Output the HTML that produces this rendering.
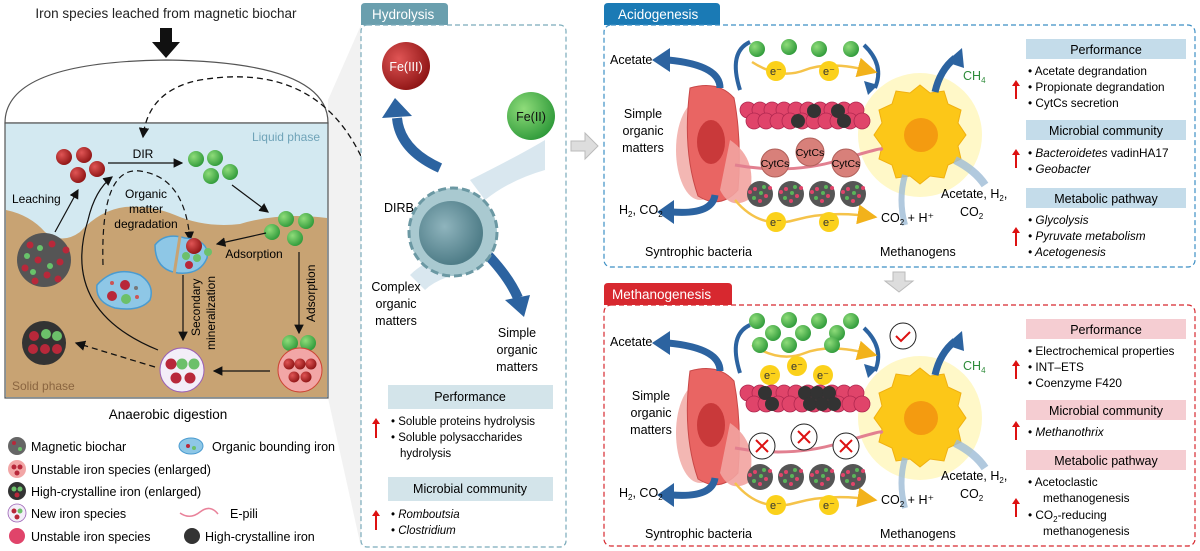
<!DOCTYPE html>
<html><head><meta charset="utf-8"><style>
html,body{margin:0;padding:0;background:#fff;}
svg{display:block;font-family:"Liberation Sans",Arial,sans-serif;}
</style></head><body>
<svg width="1200" height="551" viewBox="0 0 1200 551" xmlns="http://www.w3.org/2000/svg">
<defs>
<radialGradient id="gR" cx="0.35" cy="0.35" r="0.7"><stop offset="0" stop-color="#e05555"/><stop offset="1" stop-color="#8e1414"/></radialGradient>
<radialGradient id="gG" cx="0.35" cy="0.35" r="0.7"><stop offset="0" stop-color="#8fdc7a"/><stop offset="1" stop-color="#2f9a3a"/></radialGradient>
<radialGradient id="gC" cx="0.4" cy="0.4" r="0.6"><stop offset="0" stop-color="#8fb4bd"/><stop offset="1" stop-color="#4f7d88"/></radialGradient>
<marker id="ah" markerWidth="8" markerHeight="8" refX="7" refY="4" orient="auto"><path d="M0,0 L8,4 L0,8 z" fill="#111"/></marker>
<marker id="ay" markerWidth="8" markerHeight="8" refX="7" refY="4" orient="auto"><path d="M0,0 L8,4 L0,8 z" fill="#f2b21b"/></marker>
<g id="bc"><circle r="13" fill="#555"/><circle cx="-5" cy="-5" r="2" fill="#e0446a"/><circle cx="4" cy="-7" r="2" fill="#5ab55a"/><circle cx="6" cy="2" r="2" fill="#e0446a"/><circle cx="-6" cy="4" r="2" fill="#5ab55a"/><circle cx="0" cy="7" r="2" fill="#e0446a"/><circle cx="1" cy="-1" r="2" fill="#5ab55a"/><circle cx="-10" cy="-2" r="2" fill="#e0446a"/><circle cx="10" cy="-6" r="2" fill="#e0446a"/></g>
<g id="gb"><circle r="8" fill="url(#gG)"/></g>
<g id="rb"><circle r="8" fill="url(#gR)"/></g>
<g id="el"><circle r="10" fill="#fbd11b"/><text y="4" font-size="11" text-anchor="middle" fill="#333">e⁻</text></g>
<g id="pb"><circle r="8" fill="#e0446a" stroke="#b02850" stroke-width="0.8"/></g>
<g id="scene">
 <ellipse cx="700" cy="150" rx="24" ry="50" fill="#f0a5a0" opacity="0.8"/>
 <path d="M690,88 Q718,80 734,98 Q742,140 738,190 Q720,210 698,196 Q682,150 690,88z" fill="#e96563" stroke="#c94848"/>
 <path d="M730,140 Q760,160 748,200 Q730,210 720,190z" fill="#f2a3a0" opacity="0.9"/>
 <ellipse cx="711" cy="142" rx="14" ry="22" fill="#c9393a"/>
 <path d="M720,88 Q720,65 668,60" stroke="#2c63a0" stroke-width="7" fill="none"/><path d="M652,60 l18,-12 l0,24z" fill="#2c63a0"/>
 <path d="M715,195 Q712,215 672,212" stroke="#2c63a0" stroke-width="7" fill="none"/><path d="M657,212 l17,-12 l0,24z" fill="#2c63a0"/>
 <path d="M740,90 Q728,52 750,42" stroke="#2c63a0" stroke-width="4" fill="none"/>
 <path d="M864,45 Q885,65 875,88" stroke="#2c63a0" stroke-width="4" fill="none"/><path d="M868,95 l-4,-14 l14,4z" fill="#2c63a0"/>
 <circle cx="920" cy="135" r="62" fill="#fff5b0" opacity="0.7"/>
 <path d="M920,85 l10,8 14,-2 4,13 13,6 -3,13 8,12 -8,11 3,13 -13,6 -4,13 -14,-2 -10,8 -10,-8 -14,2 -4,-13 -13,-6 3,-13 -8,-11 8,-12 -3,-13 13,-6 4,-13 14,2z" fill="#fcc718" stroke="#f0b010"/>
 <circle cx="921" cy="135" r="17" fill="#f49b10"/>
 <path d="M935,92 Q940,70 955,58" stroke="#2c63a0" stroke-width="7" fill="none"/><path d="M962,48 l2,20 l-18,-6z" fill="#2c63a0"/>
 <path d="M905,175 Q898,200 905,225" stroke="#9dbbd6" stroke-width="6" fill="none" opacity="0.8"/>
 <path d="M955,160 Q975,170 985,185" stroke="#9dbbd6" stroke-width="8" fill="none" opacity="0.8"/>
 <path d="M752,62 Q780,80 805,70 T875,72" stroke="#f5c34a" stroke-width="2.5" fill="none" marker-end="url(#ay)"/>
 <path d="M735,200 Q760,230 795,220 T875,217" stroke="#f5c34a" stroke-width="2.5" fill="none" marker-end="url(#ay)"/>
 <path d="M735,165 Q790,175 840,160 T880,150" stroke="#e28090" stroke-width="3" fill="none"/>
</g>
</defs>

<!-- zoom shading -->
<path d="M328,100 L361,25 L361,547 L328,398z" fill="#ececec" opacity="0.7"/>

<!-- ================= LEFT PANEL ================= -->
<text x="166" y="18" font-size="13.5" text-anchor="middle" fill="#222">Iron species leached from magnetic biochar</text>
<path d="M160,28 h12 v14 h8 l-14,16 l-14,-16 h8z" fill="#111"/>
<path d="M5,123 Q5,62 166,60 Q328,62 328,123z" fill="#fff" stroke="#555" stroke-width="1.2"/>
<rect x="5" y="123" width="323" height="275" fill="#d3e9f1" stroke="#555" stroke-width="1.2"/>
<path d="M6,210 Q30,215 45,232 Q62,245 80,232 Q100,210 125,207 Q150,205 175,215 Q205,228 240,224 Q280,212 327,218 L327,397 L6,397z" fill="#c8a373"/>
<text x="320" y="141" font-size="12" text-anchor="end" fill="#6fa3b8">Liquid phase</text>
<text x="12" y="390" font-size="12" fill="#8a6540">Solid phase</text>
<path d="M365,165 Q320,60 200,80 Q148,90 143,137" stroke="#111" stroke-width="1.3" stroke-dasharray="6,4" fill="none" marker-end="url(#ah)"/>
<use href="#rb" x="64" y="157"/><use href="#rb" x="84" y="155"/><use href="#rb" x="78" y="175"/><use href="#rb" x="97" y="169"/>
<text x="143" y="158" font-size="12" text-anchor="middle">DIR</text>
<line x1="108" y1="163" x2="182" y2="163" stroke="#111" stroke-width="1.2" marker-end="url(#ah)"/>
<use href="#gb" x="196" y="159"/><use href="#gb" x="215" y="158"/><use href="#gb" x="211" y="176"/><use href="#gb" x="230" y="172"/>
<text x="12" y="203" font-size="12">Leaching</text>
<line x1="55" y1="232" x2="78" y2="190" stroke="#111" stroke-width="1.2" marker-end="url(#ah)"/>
<circle cx="44" cy="260" r="27" fill="#555"/>
<g fill="#b8283a"><circle cx="30" cy="245" r="3.5"/><circle cx="52" cy="244" r="3.5"/><circle cx="38" cy="260" r="3.5"/><circle cx="60" cy="262" r="3.5"/><circle cx="25" cy="268" r="3.5"/><circle cx="47" cy="275" r="3.5"/><circle cx="66" cy="250" r="3.5"/><circle cx="35" cy="281" r="3.5"/><circle cx="58" cy="279" r="3.5"/></g>
<g fill="#68c26a"><circle cx="40" cy="248" r="3"/><circle cx="27" cy="256" r="3"/><circle cx="50" cy="266" r="3"/><circle cx="33" cy="272" r="3"/></g>
<text x="146" y="198" font-size="12" text-anchor="middle">Organic</text>
<text x="146" y="213" font-size="12" text-anchor="middle">matter</text>
<text x="146" y="228" font-size="12" text-anchor="middle">degradation</text>
<path d="M103,265 Q100,160 145,172 Q185,180 190,240" stroke="#111" stroke-width="1.2" stroke-dasharray="6,4" fill="none" marker-end="url(#ah)"/>
<path d="M158,350 Q60,310 88,220 Q95,190 112,177" stroke="#111" stroke-width="1.2" fill="none" marker-end="url(#ah)"/>
<line x1="232" y1="185" x2="268" y2="212" stroke="#111" stroke-width="1.2" marker-end="url(#ah)"/>
<use href="#gb" x="286" y="219"/><use href="#gb" x="306" y="221"/><use href="#gb" x="272" y="232"/><use href="#gb" x="295" y="238"/>
<line x1="266" y1="233" x2="217" y2="244" stroke="#111" stroke-width="1.2" marker-end="url(#ah)"/>
<text x="254" y="258" font-size="12" text-anchor="middle">Adsorption</text>
<path d="M155,245 Q165,232 185,238 Q210,240 207,258 Q200,275 178,273 Q155,270 155,245z" fill="#8ec7e6" stroke="#4a9bd0" stroke-width="1.5"/>
<line x1="180" y1="236" x2="174" y2="275" stroke="#c8a373" stroke-width="3"/>
<use href="#rb" x="194" y="246"/><circle cx="186" cy="256" r="4" fill="#6cc06a"/><circle cx="197" cy="258" r="4" fill="#6cc06a"/><circle cx="189" cy="265" r="4" fill="#b8283a"/><circle cx="208" cy="252" r="4" fill="#6cc06a"/>
<path d="M97,285 Q115,265 140,275 Q155,285 150,300 Q140,312 115,308 Q95,302 97,285z" fill="#8ec7e6" stroke="#4a9bd0" stroke-width="1.5"/>
<circle cx="125" cy="285" r="5" fill="#b8283a"/><circle cx="112" cy="296" r="5" fill="#b8283a"/><circle cx="126" cy="299" r="5" fill="#6cc06a"/><circle cx="112" cy="283" r="2" fill="#c55"/><circle cx="136" cy="288" r="2" fill="#777"/><circle cx="137" cy="297" r="2" fill="#c55"/>
<line x1="183" y1="275" x2="183" y2="340" stroke="#111" stroke-width="1.2" marker-end="url(#ah)"/>
<text transform="translate(200,336) rotate(-90)" font-size="12">Secondary</text>
<text transform="translate(215,350) rotate(-90)" font-size="12">mineralization</text>
<line x1="299" y1="252" x2="299" y2="333" stroke="#111" stroke-width="1.2" marker-end="url(#ah)"/>
<text transform="translate(315,322) rotate(-90)" font-size="12">Adsorption</text>
<use href="#gb" x="290" y="343"/><use href="#gb" x="308" y="343"/>
<circle cx="300" cy="370" r="22" fill="#f2a6a6" stroke="#c43" stroke-width="1"/>
<g fill="url(#gR)"><circle cx="289" cy="364" r="5.5"/><circle cx="300" cy="364" r="5.5"/><circle cx="311" cy="364" r="5.5"/><circle cx="294" cy="377" r="5.5"/><circle cx="306" cy="377" r="5.5"/></g>
<line x1="270" y1="371" x2="214" y2="371" stroke="#111" stroke-width="1.2" marker-end="url(#ah)"/>
<circle cx="182" cy="370" r="22" fill="#f3eef8" stroke="#9a5fb5" stroke-width="1"/>
<g><circle cx="171" cy="364" r="5.5" fill="#b8283a"/><circle cx="182" cy="364" r="5.5" fill="#6cc06a"/><circle cx="194" cy="364" r="5.5" fill="#6cc06a"/><circle cx="176" cy="378" r="5.5" fill="#b8283a"/><circle cx="190" cy="378" r="5.5" fill="#b8283a"/></g>
<line x1="155" y1="367" x2="76" y2="343" stroke="#111" stroke-width="1.3" stroke-dasharray="6,4" marker-end="url(#ah)"/>
<circle cx="44" cy="343" r="22" fill="#333"/>
<g><circle cx="34" cy="336" r="5" fill="#b8283a"/><circle cx="46" cy="334" r="5" fill="#6cc06a"/><circle cx="57" cy="336" r="5" fill="#6cc06a"/><circle cx="33" cy="349" r="5" fill="#b8283a"/><circle cx="45" cy="349" r="5" fill="#b8283a"/><circle cx="57" cy="349" r="5" fill="#b8283a"/></g>
<text x="168" y="419" font-size="13.5" text-anchor="middle">Anaerobic digestion</text>
<g font-size="12.5">
<circle cx="17" cy="446" r="9" fill="#666"/><circle cx="14" cy="443" r="2" fill="#b8283a"/><circle cx="20" cy="449" r="2" fill="#6cc06a"/>
<text x="31" y="451">Magnetic biochar</text>
<ellipse cx="191" cy="446" rx="12" ry="8" fill="#8ec7e6" stroke="#4a9bd0"/><circle cx="188" cy="446" r="2" fill="#b8283a"/><circle cx="194" cy="448" r="2" fill="#6cc06a"/>
<text x="212" y="451">Organic bounding iron</text>
<circle cx="17" cy="469" r="9" fill="#f2a6a6"/><circle cx="14" cy="467" r="2.5" fill="#b8283a"/><circle cx="20" cy="467" r="2.5" fill="#b8283a"/><circle cx="17" cy="473" r="2.5" fill="#b8283a"/>
<text x="31" y="474">Unstable iron species (enlarged)</text>
<circle cx="17" cy="491" r="9" fill="#333"/><circle cx="14" cy="489" r="2.5" fill="#6cc06a"/><circle cx="20" cy="489" r="2.5" fill="#6cc06a"/><circle cx="17" cy="495" r="2.5" fill="#b8283a"/>
<text x="31" y="496">High-crystalline iron (enlarged)</text>
<circle cx="17" cy="513" r="9" fill="#f3eef8" stroke="#9a5fb5" stroke-width="0.8"/><circle cx="14" cy="511" r="2.5" fill="#b8283a"/><circle cx="20" cy="511" r="2.5" fill="#6cc06a"/><circle cx="17" cy="517" r="2.5" fill="#b8283a"/>
<text x="31" y="518">New iron species</text>
<path d="M180,513 Q190,520 200,512 T218,514" stroke="#e9829a" stroke-width="1.5" fill="none"/>
<text x="230" y="518">E-pili</text>
<circle cx="17" cy="536" r="8" fill="#e0446a"/>
<text x="31" y="541">Unstable iron species</text>
<circle cx="192" cy="536" r="8" fill="#333"/>
<text x="205" y="541">High-crystalline iron</text>
</g>

<!-- ================= HYDROLYSIS ================= -->
<path d="M361,25 v-18 q0,-4 4,-4 h79 q4,0 4,4 v18z" fill="#6a9fae"/>
<text x="372" y="19" font-size="13.5" fill="#fff">Hydrolysis</text>
<rect x="361" y="25" width="205" height="522" rx="6" fill="#fff" stroke="#7aabba" stroke-width="1.2" stroke-dasharray="5,3"/>
<path d="M470,180 Q520,155 545,140 L545,170 Q510,180 485,200z" fill="#c9dde8" opacity="0.7"/>
<path d="M410,275 Q430,255 470,250 L480,270 Q440,275 425,290z" fill="#c9dde8" opacity="0.7"/>
<circle cx="406" cy="66" r="24" fill="url(#gR)"/><text x="406" y="71" font-size="12.5" text-anchor="middle" fill="#fff">Fe(III)</text>
<circle cx="531" cy="116" r="24" fill="url(#gG)"/><text x="531" y="121" font-size="12.5" text-anchor="middle" fill="#111">Fe(II)</text>
<path d="M440,168 Q400,150 397,118" stroke="#2c63a0" stroke-width="10" fill="none"/><path d="M382,118 l13,-20 l17,18z" fill="#2c63a0"/>
<path d="M483,250 Q508,275 518,298" stroke="#2c63a0" stroke-width="10" fill="none"/><path d="M505,300 l25,-5 l-6,22z" fill="#2c63a0"/>
<circle cx="453" cy="232" r="44" fill="#a9c9d0" stroke="#6b98a3" stroke-width="3" stroke-dasharray="8,4"/>
<circle cx="451" cy="233" r="32" fill="url(#gC)"/>
<text x="384" y="212" font-size="12.5">DIRB</text>
<g font-size="12.5" text-anchor="middle"><text x="396" y="291">Complex</text><text x="396" y="308">organic</text><text x="396" y="325">matters</text>
<text x="517" y="337">Simple</text><text x="517" y="354">organic</text><text x="517" y="371">matters</text></g>
<rect x="388" y="385" width="165" height="24" fill="#d3e4ea"/><text x="470" y="401" font-size="12.5" text-anchor="middle">Performance</text>
<g font-size="11.5"><text x="391" y="425">•  Soluble proteins hydrolysis</text><text x="391" y="441">•  Soluble polysaccharides</text><text x="400" y="457">hydrolysis</text>
<text x="391" y="518">•  <tspan font-style="italic">Romboutsia</tspan></text><text x="391" y="534">•  <tspan font-style="italic">Clostridium</tspan></text></g>
<rect x="388" y="477" width="165" height="24" fill="#d3e4ea"/><text x="470" y="493" font-size="12.5" text-anchor="middle">Microbial community</text>
<g fill="#d11"><path d="M375,438 v-14 h-3 l4,-6 l4,6 h-3 v14z"/><path d="M375,530 v-14 h-3 l4,-6 l4,6 h-3 v14z"/></g>
<path d="M571,141 h14 v-8 l13,13 l-13,13 v-8 h-14z" fill="#ddd" stroke="#bbb"/>

<!-- ================= ACIDOGENESIS ================= -->
<path d="M604,25 v-18 q0,-4 4,-4 h108 q4,0 4,4 v18z" fill="#1a7ab5"/>
<text x="618" y="19" font-size="13.5" fill="#fff">Acidogenesis</text>
<rect x="604" y="25" width="591" height="242" rx="7" fill="#fff" stroke="#3c8fc4" stroke-width="1.2" stroke-dasharray="5,3"/>
<use href="#scene"/>
<g><use href="#gb" x="757" y="49"/><use href="#gb" x="789" y="47"/><use href="#gb" x="819" y="49"/><use href="#gb" x="851" y="49"/>
<use href="#el" x="776" y="71"/><use href="#el" x="829" y="71"/><use href="#el" x="776" y="222"/><use href="#el" x="829" y="222"/></g>
<g><use href="#pb" x="748" y="110"/><use href="#pb" x="760" y="110"/><use href="#pb" x="772" y="110"/><use href="#pb" x="784" y="110"/><use href="#pb" x="796" y="110"/><use href="#pb" x="808" y="110"/><use href="#pb" x="820" y="110"/><use href="#pb" x="832" y="110"/><use href="#pb" x="844" y="110"/><use href="#pb" x="856" y="110"/>
<use href="#pb" x="754" y="121"/><use href="#pb" x="766" y="121"/><use href="#pb" x="778" y="121"/><use href="#pb" x="790" y="121"/><use href="#pb" x="802" y="121"/><use href="#pb" x="814" y="121"/><use href="#pb" x="826" y="121"/><use href="#pb" x="838" y="121"/><use href="#pb" x="850" y="121"/><use href="#pb" x="862" y="121"/>
<circle cx="814" cy="111" r="7" fill="#333"/><circle cx="798" cy="121" r="7" fill="#333"/><circle cx="838" cy="111" r="7" fill="#333"/><circle cx="844" cy="121" r="7" fill="#333"/></g>
<g fill="#d8807a" stroke="#b0605a"><circle cx="775" cy="163" r="14"/><circle cx="810" cy="152" r="14"/><circle cx="846" cy="163" r="14"/></g>
<g font-size="10.5" text-anchor="middle"><text x="775" y="167">CytCs</text><text x="810" y="156">CytCs</text><text x="846" y="167">CytCs</text></g>
<use href="#bc" x="760" y="194"/><use href="#bc" x="791" y="194"/><use href="#bc" x="822" y="194"/><use href="#bc" x="853" y="194"/>
<g font-size="12.5"><text x="610" y="64">Acetate</text>
<text x="643" y="118" text-anchor="middle">Simple</text><text x="643" y="135" text-anchor="middle">organic</text><text x="643" y="152" text-anchor="middle">matters</text>
<text x="619" y="214">H<tspan font-size="8" dy="3">2</tspan><tspan dy="-3">, CO</tspan><tspan font-size="8" dy="3">2</tspan></text>
<text x="645" y="256">Syntrophic bacteria</text><text x="880" y="256">Methanogens</text>
<text x="963" y="80" fill="#2e8b3a">CH<tspan font-size="8" dy="3">4</tspan></text>
<text x="941" y="198">Acetate, H<tspan font-size="8" dy="3">2</tspan><tspan dy="-3">,</tspan></text><text x="960" y="216">CO<tspan font-size="8" dy="3">2</tspan></text>
<text x="881" y="222">CO<tspan font-size="8" dy="3">2</tspan><tspan dy="-3"> + H⁺</tspan></text></g>
<g font-size="12.5" text-anchor="middle">
<rect x="1026" y="39" width="160" height="20" fill="#c4dcea"/><text x="1106" y="54">Performance</text>
<rect x="1026" y="120" width="160" height="20" fill="#c4dcea"/><text x="1106" y="135">Microbial community</text>
<rect x="1026" y="188" width="160" height="20" fill="#c4dcea"/><text x="1106" y="203">Metabolic pathway</text></g>
<g font-size="11.8"><text x="1028" y="75">•  Acetate degrandation</text><text x="1028" y="91">•  Propionate degrandation</text><text x="1028" y="107">•  CytCs secretion</text>
<text x="1028" y="157">•  <tspan font-style="italic">Bacteroidetes</tspan> vadinHA17</text><text x="1028" y="173">•  <tspan font-style="italic">Geobacter</tspan></text>
<text x="1028" y="224" font-style="italic">•  Glycolysis</text><text x="1028" y="240" font-style="italic">•  Pyruvate metabolism</text><text x="1028" y="256" font-style="italic">•  Acetogenesis</text></g>
<g fill="#d11"><path d="M1015,99 v-13 h-3 l4,-6 l4,6 h-3 v13z"/><path d="M1015,168 v-13 h-3 l4,-6 l4,6 h-3 v13z"/><path d="M1015,246 v-13 h-3 l4,-6 l4,6 h-3 v13z"/></g>
<path d="M893,272 h12 v9 h8 l-14,11 l-14,-11 h8z" fill="#ddd" stroke="#bbb"/>

<!-- ================= METHANOGENESIS ================= -->
<path d="M604,305 v-18 q0,-4 4,-4 h120 q4,0 4,4 v18z" fill="#d7282f"/>
<text x="612" y="299" font-size="13.5" fill="#fff">Methanogenesis</text>
<rect x="604" y="305" width="591" height="241" rx="7" fill="#fff" stroke="#d7282f" stroke-width="1.2" stroke-dasharray="5,3"/>
<use href="#scene" y="283"/>
<g><use href="#gb" x="757" y="321"/><use href="#gb" x="789" y="320"/><use href="#gb" x="819" y="321"/><use href="#gb" x="851" y="321"/>
<use href="#gb" x="760" y="345"/><use href="#gb" x="789" y="345"/><use href="#gb" x="803" y="333"/><use href="#gb" x="837" y="333"/><use href="#gb" x="832" y="345"/><use href="#gb" x="773" y="333"/>
<use href="#el" x="770" y="375"/><use href="#el" x="797" y="366"/><use href="#el" x="823" y="375"/><use href="#el" x="776" y="505"/><use href="#el" x="829" y="505"/></g>
<circle cx="903" cy="336" r="13" fill="#fff" stroke="#222"/><path d="M896,336 l5,5 l9,-9" stroke="#d11" stroke-width="2" fill="none"/>
<g><use href="#pb" x="748" y="393"/><use href="#pb" x="760" y="393"/><use href="#pb" x="772" y="393"/><use href="#pb" x="784" y="393"/><use href="#pb" x="796" y="393"/><use href="#pb" x="808" y="393"/><use href="#pb" x="820" y="393"/><use href="#pb" x="832" y="393"/><use href="#pb" x="844" y="393"/><use href="#pb" x="856" y="393"/>
<use href="#pb" x="754" y="404"/><use href="#pb" x="766" y="404"/><use href="#pb" x="778" y="404"/><use href="#pb" x="790" y="404"/><use href="#pb" x="802" y="404"/><use href="#pb" x="814" y="404"/><use href="#pb" x="826" y="404"/><use href="#pb" x="838" y="404"/><use href="#pb" x="850" y="404"/><use href="#pb" x="862" y="404"/>
<g fill="#333"><circle cx="765" cy="393" r="7"/><circle cx="772" cy="404" r="7"/><circle cx="805" cy="393" r="7"/><circle cx="817" cy="393" r="7"/><circle cx="829" cy="393" r="7"/><circle cx="810" cy="404" r="7"/><circle cx="822" cy="404" r="7"/><circle cx="834" cy="404" r="7"/></g></g>
<g fill="#fff" stroke="#222"><circle cx="762" cy="446" r="13"/><circle cx="804" cy="437" r="13"/><circle cx="846" cy="446" r="13"/></g>
<g stroke="#d11" stroke-width="2"><path d="M756,440 l12,12 M768,440 l-12,12"/><path d="M798,431 l12,12 M810,431 l-12,12"/><path d="M840,440 l12,12 M852,440 l-12,12"/></g>
<use href="#bc" x="760" y="477"/><use href="#bc" x="791" y="477"/><use href="#bc" x="822" y="477"/><use href="#bc" x="853" y="477"/>
<g font-size="12.5"><text x="610" y="346">Acetate</text>
<text x="651" y="400" text-anchor="middle">Simple</text><text x="651" y="417" text-anchor="middle">organic</text><text x="651" y="434" text-anchor="middle">matters</text>
<text x="619" y="497">H<tspan font-size="8" dy="3">2</tspan><tspan dy="-3">, CO</tspan><tspan font-size="8" dy="3">2</tspan></text>
<text x="645" y="538">Syntrophic bacteria</text><text x="880" y="538">Methanogens</text>
<text x="963" y="370" fill="#2e8b3a">CH<tspan font-size="8" dy="3">4</tspan></text>
<text x="941" y="480">Acetate, H<tspan font-size="8" dy="3">2</tspan><tspan dy="-3">,</tspan></text><text x="960" y="498">CO<tspan font-size="8" dy="3">2</tspan></text>
<text x="881" y="504">CO<tspan font-size="8" dy="3">2</tspan><tspan dy="-3"> + H⁺</tspan></text></g>
<g font-size="12.5" text-anchor="middle">
<rect x="1026" y="319" width="160" height="20" fill="#f5cdd2"/><text x="1106" y="334">Performance</text>
<rect x="1026" y="400" width="160" height="20" fill="#f5cdd2"/><text x="1106" y="415">Microbial community</text>
<rect x="1026" y="450" width="160" height="20" fill="#f5cdd2"/><text x="1106" y="465">Metabolic pathway</text></g>
<g font-size="11.8"><text x="1028" y="355">•  Electrochemical properties</text><text x="1028" y="371">•  INT–ETS</text><text x="1028" y="387">•  Coenzyme F420</text>
<text x="1028" y="436">•  <tspan font-style="italic">Methanothrix</tspan></text>
<text x="1028" y="486">•  Acetoclastic</text><text x="1043" y="502">methanogenesis</text><text x="1028" y="519">•  CO<tspan font-size="8" dy="3">2</tspan><tspan dy="-3">-reducing</tspan></text><text x="1043" y="535">methanogenesis</text></g>
<g fill="#d11"><path d="M1015,379 v-13 h-3 l4,-6 l4,6 h-3 v13z"/><path d="M1015,440 v-13 h-3 l4,-6 l4,6 h-3 v13z"/><path d="M1015,517 v-13 h-3 l4,-6 l4,6 h-3 v13z"/></g>
</svg>
</body></html>
